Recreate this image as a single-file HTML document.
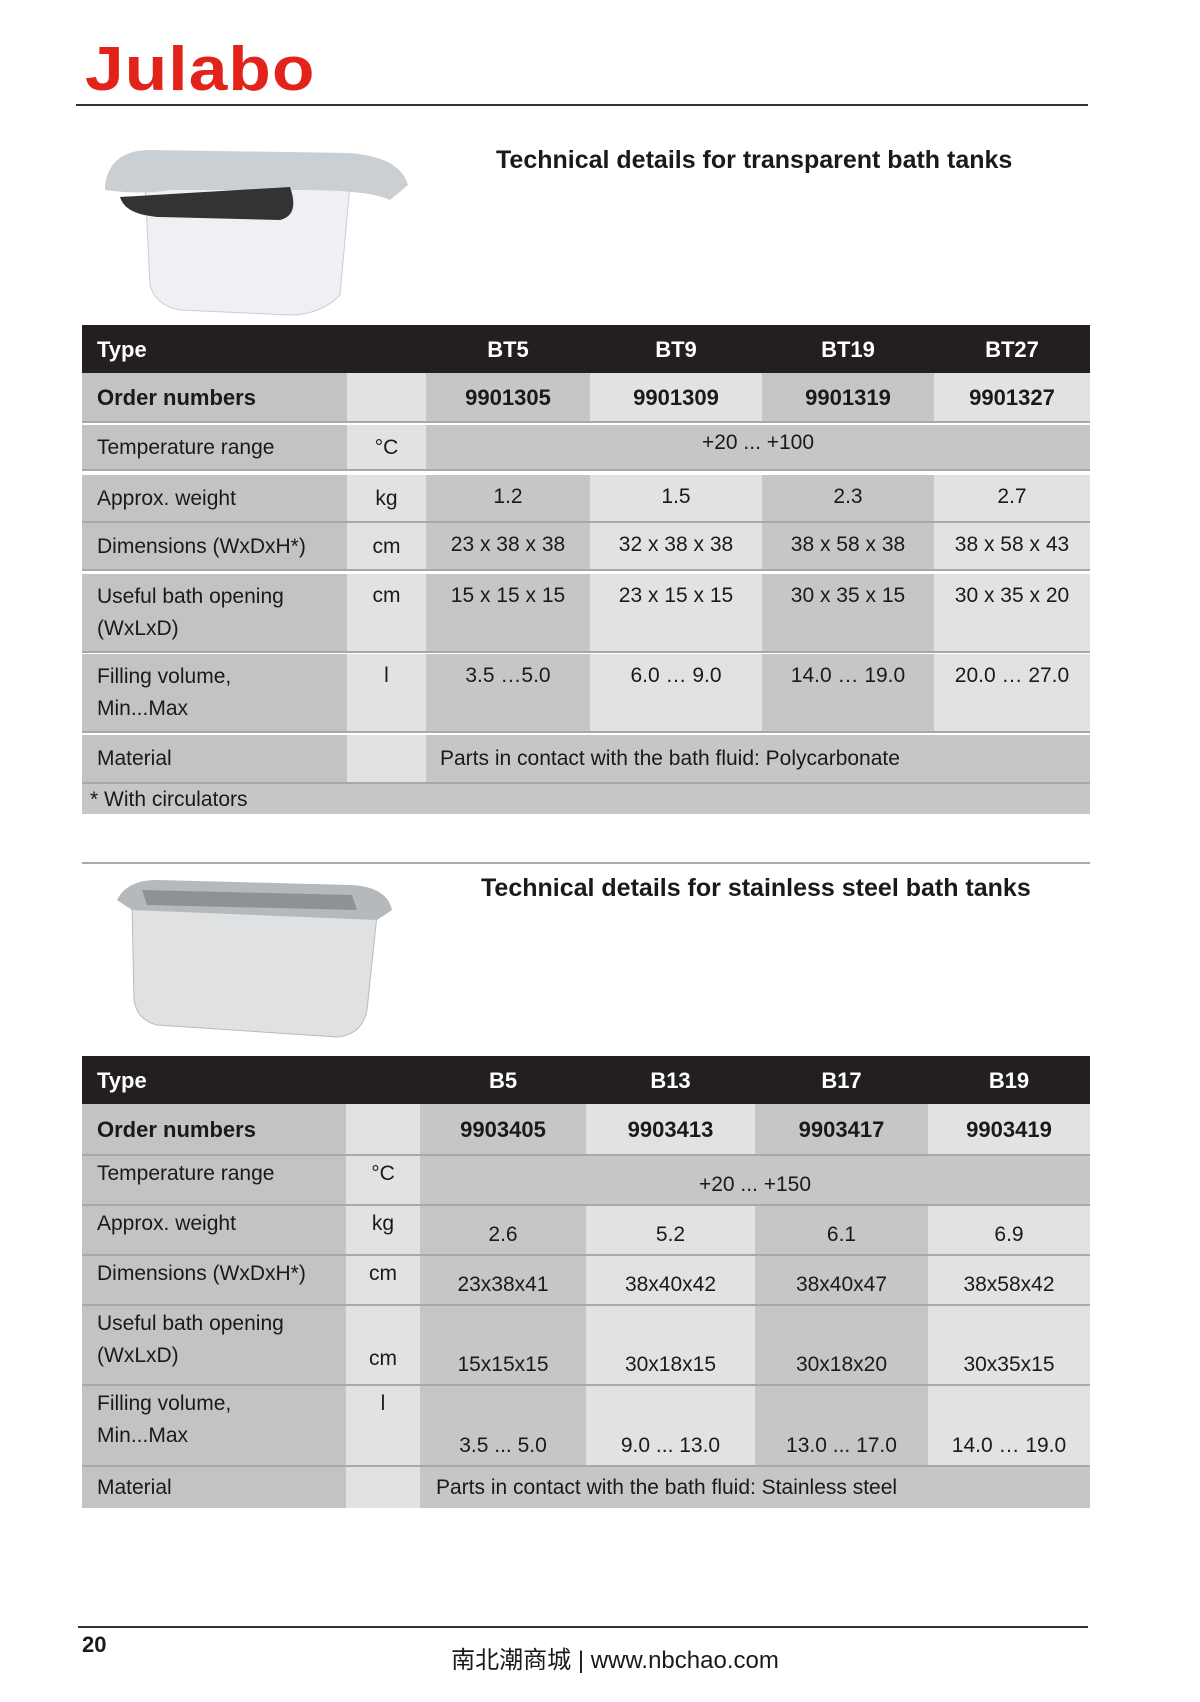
<!DOCTYPE html>
<html><head><meta charset="utf-8"><style>
body{margin:0;width:1200px;height:1702px;background:#fff;position:relative;overflow:hidden;font-family:"Liberation Sans","Noto Sans CJK SC",sans-serif;color:#1a1a1a}
.c{position:absolute;box-sizing:border-box;display:flex;font-size:21px;line-height:31px;border-bottom:2px solid #a8a8a8}
.h{background:#231f20;color:#fff;font-weight:bold;font-size:22px;align-items:center;justify-content:center;border:none}
.L{background:#c3c3c3;padding-left:15px;align-items:center}
.U{background:#e2e2e2;justify-content:center}
.g{background:#c6c6c6;justify-content:center}
.l{background:#e2e2e2;justify-content:center}
.t{align-items:flex-start;padding-top:6px}
.b{align-items:flex-end;padding-bottom:4px}
.m{align-items:center}
.B{font-weight:bold;font-size:22px}
.ln{position:absolute;height:2px;background:#333}
</style></head><body>
<div style="position:absolute;left:85px;top:34px;font:bold 62px 'Liberation Sans Narrow','Liberation Sans',sans-serif;color:#e2231a;letter-spacing:1px;transform:scaleX(1.12);transform-origin:left">Julabo</div>
<div class="ln" style="left:76px;top:104px;width:1012px"></div>

<svg style="position:absolute;left:100px;top:145px" width="310" height="175"><path d="M45 40 L250 40 L240 150 Q220 170 190 170 L80 165 Q55 160 50 140 Z" fill="#eef0f3" stroke="#ccd" /><path d="M5 40 Q10 5 50 5 L250 8 Q300 12 308 40 L290 55 Q270 45 200 45 L70 45 Q40 50 5 45 Z" fill="#c9cfd2"/><path d="M20 52 L190 42 Q200 70 180 75 L60 72 Q25 70 20 52Z" fill="#333"/></svg>
<div style="position:absolute;left:496px;top:146px;font-weight:bold;font-size:25px">Technical details for transparent bath tanks</div>

<div class="c h" style="left:82px;top:325px;width:1008px;height:48px;justify-content:flex-start;padding-left:15px">Type</div>
<div class="c h" style="left:426px;top:325px;width:164px;height:48px">BT5</div>
<div class="c h" style="left:590px;top:325px;width:172px;height:48px">BT9</div>
<div class="c h" style="left:762px;top:325px;width:172px;height:48px">BT19</div>
<div class="c h" style="left:934px;top:325px;width:156px;height:48px">BT27</div>

<div class="c L B" style="left:82px;top:373px;width:265px;height:50px">Order numbers</div>
<div class="c U m" style="left:347px;top:373px;width:79px;height:50px"></div>
<div class="c g m B" style="left:426px;top:373px;width:164px;height:50px">9901305</div>
<div class="c l m B" style="left:590px;top:373px;width:172px;height:50px">9901309</div>
<div class="c g m B" style="left:762px;top:373px;width:172px;height:50px">9901319</div>
<div class="c l m B" style="left:934px;top:373px;width:156px;height:50px">9901327</div>

<div class="c L" style="left:82px;top:425px;width:265px;height:46px">Temperature range</div>
<div class="c U m" style="left:347px;top:425px;width:79px;height:46px">°C</div>
<div class="c g t" style="left:426px;top:425px;width:664px;height:46px;padding-top:2px">+20 ... +100</div>

<div class="c L" style="left:82px;top:475px;width:265px;height:48px">Approx. weight</div>
<div class="c U m" style="left:347px;top:475px;width:79px;height:48px">kg</div>
<div class="c g t" style="left:426px;top:475px;width:164px;height:48px">1.2</div>
<div class="c l t" style="left:590px;top:475px;width:172px;height:48px">1.5</div>
<div class="c g t" style="left:762px;top:475px;width:172px;height:48px">2.3</div>
<div class="c l t" style="left:934px;top:475px;width:156px;height:48px">2.7</div>

<div class="c L" style="left:82px;top:523px;width:265px;height:48px">Dimensions (WxDxH*)</div>
<div class="c U m" style="left:347px;top:523px;width:79px;height:48px">cm</div>
<div class="c g t" style="left:426px;top:523px;width:164px;height:48px">23 x 38 x 38</div>
<div class="c l t" style="left:590px;top:523px;width:172px;height:48px">32 x 38 x 38</div>
<div class="c g t" style="left:762px;top:523px;width:172px;height:48px">38 x 58 x 38</div>
<div class="c l t" style="left:934px;top:523px;width:156px;height:48px">38 x 58 x 43</div>

<div class="c L" style="left:82px;top:574px;width:265px;height:79px;line-height:32px">Useful bath opening<br>(WxLxD)</div>
<div class="c U t" style="left:347px;top:574px;width:79px;height:79px">cm</div>
<div class="c g t" style="left:426px;top:574px;width:164px;height:79px">15 x 15 x 15</div>
<div class="c l t" style="left:590px;top:574px;width:172px;height:79px">23 x 15 x 15</div>
<div class="c g t" style="left:762px;top:574px;width:172px;height:79px">30 x 35 x 15</div>
<div class="c l t" style="left:934px;top:574px;width:156px;height:79px">30 x 35 x 20</div>

<div class="c L" style="left:82px;top:654px;width:265px;height:79px;line-height:32px">Filling volume,<br>Min...Max</div>
<div class="c U t" style="left:347px;top:654px;width:79px;height:79px">l</div>
<div class="c g t" style="left:426px;top:654px;width:164px;height:79px">3.5 …5.0</div>
<div class="c l t" style="left:590px;top:654px;width:172px;height:79px">6.0 … 9.0</div>
<div class="c g t" style="left:762px;top:654px;width:172px;height:79px">14.0 … 19.0</div>
<div class="c l t" style="left:934px;top:654px;width:156px;height:79px">20.0 … 27.0</div>

<div class="c L" style="left:82px;top:735px;width:265px;height:49px">Material</div>
<div class="c U" style="left:347px;top:735px;width:79px;height:49px"></div>
<div class="c g m" style="left:426px;top:735px;width:664px;height:49px;justify-content:flex-start;padding-left:14px">Parts in contact with the bath fluid: Polycarbonate</div>
<div class="c g m" style="left:82px;top:784px;width:1008px;height:30px;justify-content:flex-start;padding-left:8px;border:none">* With circulators</div>

<div style="position:absolute;left:82px;top:862px;width:1008px;height:2px;background:#aaa"></div>
<svg style="position:absolute;left:112px;top:875px" width="285" height="170"><path d="M20 30 L265 40 L255 135 Q250 160 225 162 L45 150 Q25 145 22 125Z" fill="#dfe1e3" stroke="#bbb"/><path d="M5 25 Q15 5 45 5 L240 10 Q275 12 280 35 L265 45 L20 35 Z" fill="#b5b9bb"/><path d="M30 15 L240 20 L245 35 L35 30Z" fill="#8e9295"/></svg>
<div style="position:absolute;left:481px;top:874px;font-weight:bold;font-size:25px">Technical details for stainless steel bath tanks</div>

<div class="c h" style="left:82px;top:1056px;width:1008px;height:48px;justify-content:flex-start;padding-left:15px">Type</div>
<div class="c h" style="left:420px;top:1056px;width:166px;height:48px">B5</div>
<div class="c h" style="left:586px;top:1056px;width:169px;height:48px">B13</div>
<div class="c h" style="left:755px;top:1056px;width:173px;height:48px">B17</div>
<div class="c h" style="left:928px;top:1056px;width:162px;height:48px">B19</div>

<div class="c L B" style="left:82px;top:1104px;width:264px;height:52px">Order numbers</div>
<div class="c U" style="left:346px;top:1104px;width:74px;height:52px"></div>
<div class="c g m B" style="left:420px;top:1104px;width:166px;height:52px">9903405</div>
<div class="c l m B" style="left:586px;top:1104px;width:169px;height:52px">9903413</div>
<div class="c g m B" style="left:755px;top:1104px;width:173px;height:52px">9903417</div>
<div class="c l m B" style="left:928px;top:1104px;width:162px;height:52px">9903419</div>

<div class="c L t" style="left:82px;top:1156px;width:264px;height:50px;padding-top:2px">Temperature range</div>
<div class="c U t" style="left:346px;top:1156px;width:74px;height:50px;padding-top:2px">°C</div>
<div class="c g b" style="left:420px;top:1156px;width:670px;height:50px">+20 ... +150</div>

<div class="c L t" style="left:82px;top:1206px;width:264px;height:50px;padding-top:2px">Approx. weight</div>
<div class="c U t" style="left:346px;top:1206px;width:74px;height:50px;padding-top:2px">kg</div>
<div class="c g b" style="left:420px;top:1206px;width:166px;height:50px">2.6</div>
<div class="c l b" style="left:586px;top:1206px;width:169px;height:50px">5.2</div>
<div class="c g b" style="left:755px;top:1206px;width:173px;height:50px">6.1</div>
<div class="c l b" style="left:928px;top:1206px;width:162px;height:50px">6.9</div>

<div class="c L t" style="left:82px;top:1256px;width:264px;height:50px;padding-top:2px">Dimensions (WxDxH*)</div>
<div class="c U t" style="left:346px;top:1256px;width:74px;height:50px;padding-top:2px">cm</div>
<div class="c g b" style="left:420px;top:1256px;width:166px;height:50px">23x38x41</div>
<div class="c l b" style="left:586px;top:1256px;width:169px;height:50px">38x40x42</div>
<div class="c g b" style="left:755px;top:1256px;width:173px;height:50px">38x40x47</div>
<div class="c l b" style="left:928px;top:1256px;width:162px;height:50px">38x58x42</div>

<div class="c L t" style="left:82px;top:1306px;width:264px;height:80px;line-height:32px;padding-top:2px">Useful bath opening<br>(WxLxD)</div>
<div class="c U b" style="left:346px;top:1306px;width:74px;height:80px;padding-bottom:10px">cm</div>
<div class="c g b" style="left:420px;top:1306px;width:166px;height:80px">15x15x15</div>
<div class="c l b" style="left:586px;top:1306px;width:169px;height:80px">30x18x15</div>
<div class="c g b" style="left:755px;top:1306px;width:173px;height:80px">30x18x20</div>
<div class="c l b" style="left:928px;top:1306px;width:162px;height:80px">30x35x15</div>

<div class="c L t" style="left:82px;top:1386px;width:264px;height:81px;line-height:32px;padding-top:2px">Filling volume,<br>Min...Max</div>
<div class="c U t" style="left:346px;top:1386px;width:74px;height:81px;padding-top:2px">l</div>
<div class="c g b" style="left:420px;top:1386px;width:166px;height:81px">3.5 ... 5.0</div>
<div class="c l b" style="left:586px;top:1386px;width:169px;height:81px">9.0 ... 13.0</div>
<div class="c g b" style="left:755px;top:1386px;width:173px;height:81px">13.0 ... 17.0</div>
<div class="c l b" style="left:928px;top:1386px;width:162px;height:81px">14.0 … 19.0</div>

<div class="c L" style="left:82px;top:1467px;width:264px;height:41px;border:none">Material</div>
<div class="c U" style="left:346px;top:1467px;width:74px;height:41px;border:none"></div>
<div class="c g m" style="left:420px;top:1467px;width:670px;height:41px;justify-content:flex-start;padding-left:16px;border:none">Parts in contact with the bath fluid: Stainless steel</div>

<div class="ln" style="left:78px;top:1626px;width:1010px"></div>
<div style="position:absolute;left:82px;top:1632px;font-weight:bold;font-size:22px">20</div>
<div style="position:absolute;left:430px;top:1640px;width:370px;text-align:center;font-size:24px">南北潮商城 | www.nbchao.com</div>
</body></html>
